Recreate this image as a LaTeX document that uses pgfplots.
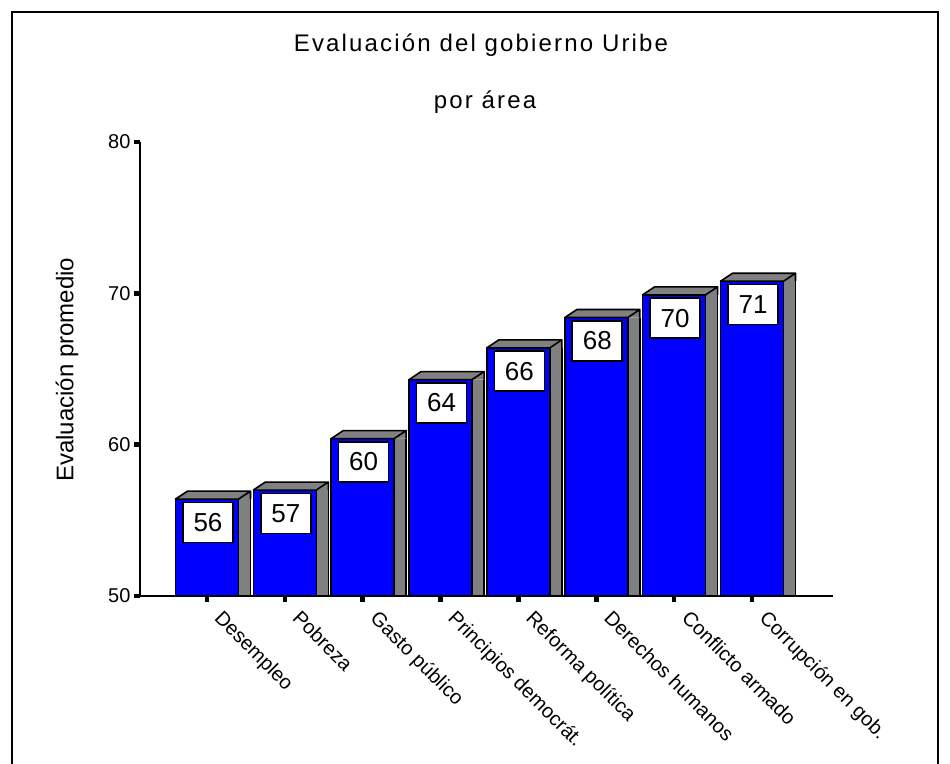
\documentclass[border=0pt]{standalone}
\usepackage{fontspec}
\setmainfont{Liberation Sans}
\usepackage{pgfplots}
\pgfplotsset{compat=1.18}
\usepackage{pgfplotstable}

\definecolor{barblue}{RGB}{0,0,255}
\definecolor{sidegray}{RGB}{128,128,128}

\protected\def\titlefont{\fontsize{24}{27}\selectfont\addfontfeature{LetterSpace=9}}
\protected\def\tickfont{\fontsize{20}{22}\selectfont}
\protected\def\catfont{\fontsize{20}{22}\selectfont}
\protected\def\labelfont{\fontsize{24}{27}\selectfont}
\protected\def\boxfont{\fontsize{26}{30}\selectfont}

% top face and upper part of the side face of a 3D bar
\pgfdeclareplotmark{bartop}{%
  \pgfpathmoveto{\pgfpoint{-31.5pt}{0pt}}%
  \pgfpathlineto{\pgfpoint{-19.5pt}{8pt}}%
  \pgfpathlineto{\pgfpoint{43.5pt}{8pt}}%
  \pgfpathlineto{\pgfpoint{31.5pt}{0pt}}%
  \pgfpathclose
  \pgfpathmoveto{\pgfpoint{31.5pt}{0pt}}%
  \pgfpathlineto{\pgfpoint{43.5pt}{8pt}}%
  \pgfpathlineto{\pgfpoint{43.5pt}{0pt}}%
  \pgfusepathqfillstroke
}

% mean evaluation by area
\pgfplotstableread{
i v lab
0 56.4 56
1 57.0 57
2 60.4 60
3 64.3 64
4 66.4 66
5 68.4 68
6 69.9 70
7 70.8 71
}\evaldata

\begin{document}
\begin{tikzpicture}[x=1pt,y=1pt]
\useasboundingbox (0,0) rectangle (950,763);
\draw[line width=2pt] (12,-2) -- (12,751) -- (938,751) -- (938,-2);
\node[font=\titlefont] at (481,718) {Evaluación del gobierno Uribe};
\node[font=\titlefont] at (485,661) {por área};

\begin{axis}[
    at={(140pt,167pt)}, anchor=south west,
    scale only axis, width=693pt, height=454pt,
    xmin=-0.86, xmax=8.04, ymin=50, ymax=80,
    axis on top,
    axis x line*=bottom, axis y line*=left,
    axis line style={line width=1.8pt, -},
    xtick={0,...,7},
    xticklabels={Desempleo, Pobreza, Gasto público, Principios democrát., Reforma política, Derechos humanos, Conflicto armado, Corrupción en gob.},
    ytick={50,60,70,80},
    tick align=outside, major tick length=6pt,
    tick style={line width=4.5pt, black},
    yticklabel style={font=\tickfont, /pgf/number format/assume math mode=true},
    xticklabel style={font=\catfont, xshift=17pt, yshift=-7pt, rotate=-45, anchor=north west, inner sep=0pt},
    ylabel={Evaluación promedio},
    ylabel style={font=\labelfont, at={(rel axis cs:-0.1053,0.498)}, anchor=center},
]
% side faces
\addplot[ybar, bar width=12pt, bar shift=37.5pt, fill=sidegray, draw=none]
    table[x=i, y=v] {\evaldata};
\addplot[ybar, bar width=0pt, bar shift=43.5pt, draw=black, line width=1.6pt]
    table[x=i, y=v] {\evaldata};
% front faces with value boxes
\addplot[ybar, bar width=63pt, bar shift=0pt, fill=barblue, draw=black, line width=1.6pt,
    point meta=explicit symbolic,
    nodes near coords={\pgfplotspointmeta},
    every node near coord/.append style={fill=white, draw=black, line width=1.6pt,
        minimum width=50pt, minimum height=40pt, inner sep=0pt,
        anchor=north, xshift=1pt, yshift=-2.5pt, font=\boxfont},
] table[x=i, y=v, meta=lab] {\evaldata};
% top faces
\addplot[only marks, mark=bartop, mark options={fill=sidegray, draw=black, line width=1.6pt, line join=round}]
    table[x=i, y=v] {\evaldata};
\end{axis}
\end{tikzpicture}
\end{document}
